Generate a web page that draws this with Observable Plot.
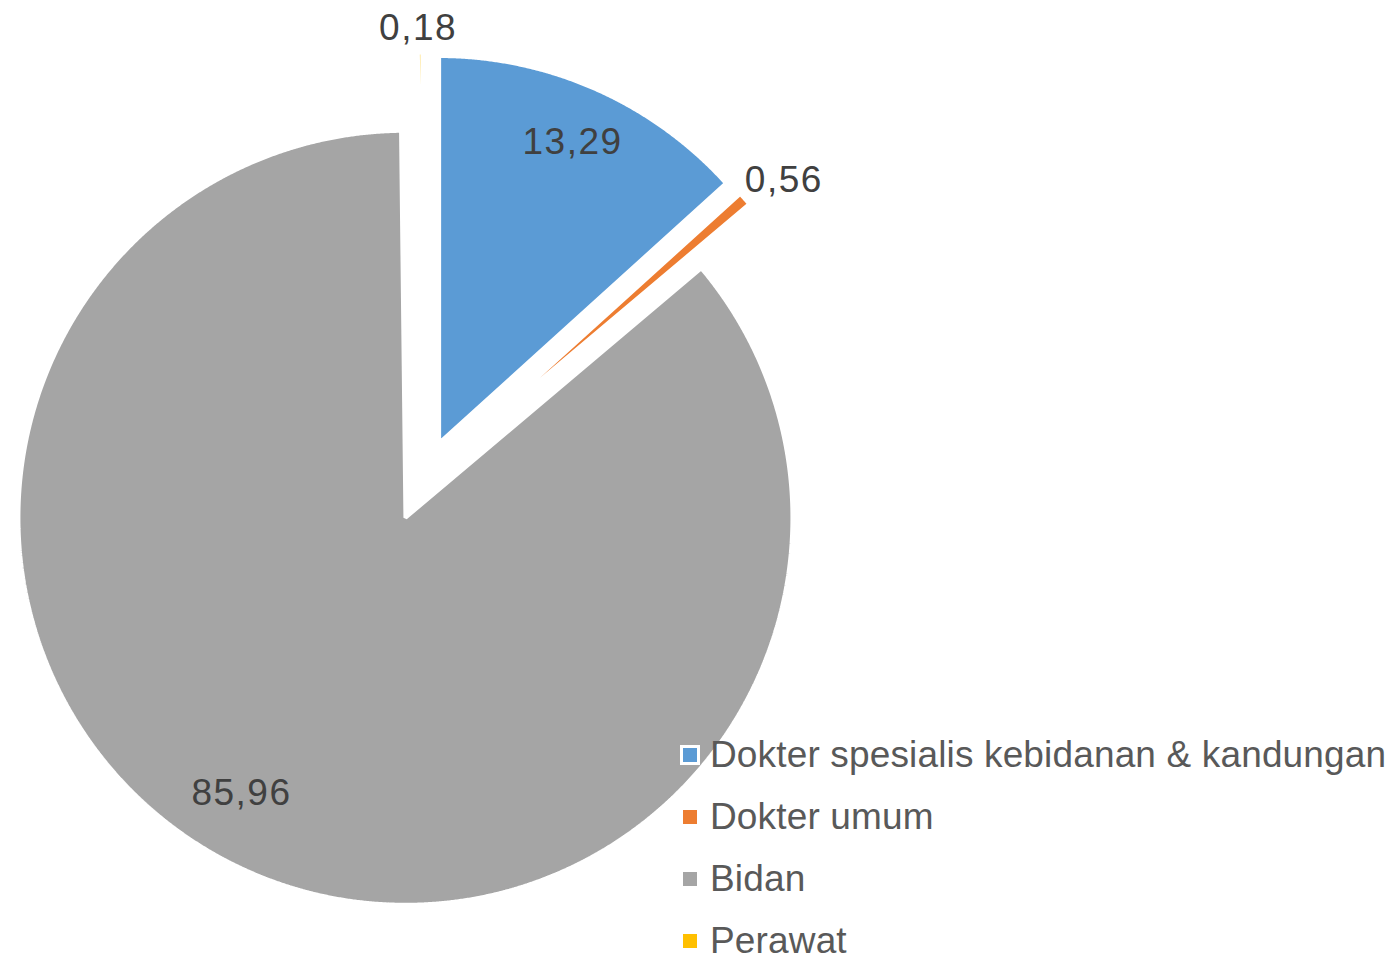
<!DOCTYPE html>
<html>
<head>
<meta charset="utf-8">
<script src="https://cdn.jsdelivr.net/npm/d3@7"></script>
<script src="https://cdn.jsdelivr.net/npm/@observablehq/plot@0.6"></script>
<style>
  html, body { margin: 0; padding: 0; background: #fff; }
  #wrap { position: relative; width: 1396px; height: 958px; overflow: hidden; }
  #wrap svg text { letter-spacing: 1.5px; }
  #legend { position: absolute; left: 680px; top: 724px; font-family: "Liberation Sans", Arial, sans-serif; font-size: 37px; letter-spacing: 0.15px; color: #595959; }
  .row { display: flex; align-items: center; height: 62px; }
  .sw { width: 14px; height: 14px; border: 3px solid #fff; margin-right: 10px; flex: none; }
  .lab { white-space: nowrap; line-height: 0.8; }
</style>
</head>
<body>
<div id="wrap"></div>
<script>
// ---- data ----
const categories = ["Dokter spesialis kebidanan & kandungan", "Dokter umum", "Bidan", "Perawat"];
const values = [13.29, 0.56, 85.96, 0.18];
const colors = ["#5B9BD5", "#ED7D31", "#A5A5A5", "#FFC000"];

// ---- layout ----
const W = 1396, H = 958;
const CX = 422, CY = 480;   // pie centre in px
const R = 387;              // radius in px
const EXPLODE = 41;         // explosion distance in px
const FONT = "Liberation Sans, Arial, sans-serif";
const labelNudge = {"Bidan": [-27, 24]};  // px, x right / y up

const fmt = v => v.toFixed(2).replace(".", ",");
const arcs = d3.pie().sort(null).value(d => d)(values);

// slice outlines (units: px relative to centre, y up)
const pts = [];
const labels = [];
arcs.forEach((a, i) => {
  const mid = (a.startAngle + a.endAngle) / 2;
  const ox = EXPLODE * Math.sin(mid), oy = EXPLODE * Math.cos(mid);
  const cat = categories[i];
  pts.push({x: ox, y: oy, cat});
  const n = Math.max(2, Math.ceil((a.endAngle - a.startAngle) / (Math.PI / 900)));
  for (let k = 0; k <= n; k++) {
    const t = a.startAngle + (a.endAngle - a.startAngle) * k / n;
    pts.push({x: ox + R * Math.sin(t), y: oy + R * Math.cos(t), cat});
  }
  const v = values[i];
  const nd = labelNudge[cat] || [0, 0];
  if (v >= 1) {
    const rr = 0.85 * R;
    labels.push({x: ox + rr * Math.sin(mid) + nd[0], y: oy + rr * Math.cos(mid) + nd[1], text: fmt(v)});
  } else {
    const tx = ox + R * Math.sin(mid), ty = oy + R * Math.cos(mid);
    const s = Math.sin(mid), c = Math.cos(mid);
    const offX = Math.abs(s) > 0.3 ? Math.sign(s) * 39 : -2;
    const offY = Math.abs(c) > 0.3 ? Math.sign(c) * (Math.abs(s) > 0.3 ? 19 : 24) : 0;
    labels.push({x: tx + offX + nd[0], y: ty + offY + nd[1], text: fmt(v)});
  }
});

const chart = Plot.plot({
  width: W,
  height: H,
  margin: 0,
  x: {domain: [-CX, W - CX], range: [0, W], axis: null},
  y: {domain: [-(H - CY), CY], range: [H, 0], axis: null},
  color: {domain: categories, range: colors},
  style: {background: "#fff", fontFamily: FONT},
  marks: [
    Plot.line(pts, {x: "x", y: "y", z: "cat", fill: "cat", stroke: "#fff", strokeWidth: 4, strokeLinejoin: "miter", curve: "linear-closed"}),
    Plot.text(labels, {x: "x", y: "y", text: "text", fontSize: 37, fill: "#404040", fontFamily: FONT})
  ]
});
const wrap = document.getElementById("wrap");
wrap.appendChild(chart);

// legend
const legend = document.createElement("div");
legend.id = "legend";
categories.forEach((c, i) => {
  const row = document.createElement("div");
  row.className = "row";
  const sw = document.createElement("span");
  sw.className = "sw";
  sw.style.background = colors[i];
  const lab = document.createElement("span");
  lab.className = "lab";
  lab.textContent = c;
  row.appendChild(sw); row.appendChild(lab);
  legend.appendChild(row);
});
wrap.appendChild(legend);
</script>
</body>
</html>
